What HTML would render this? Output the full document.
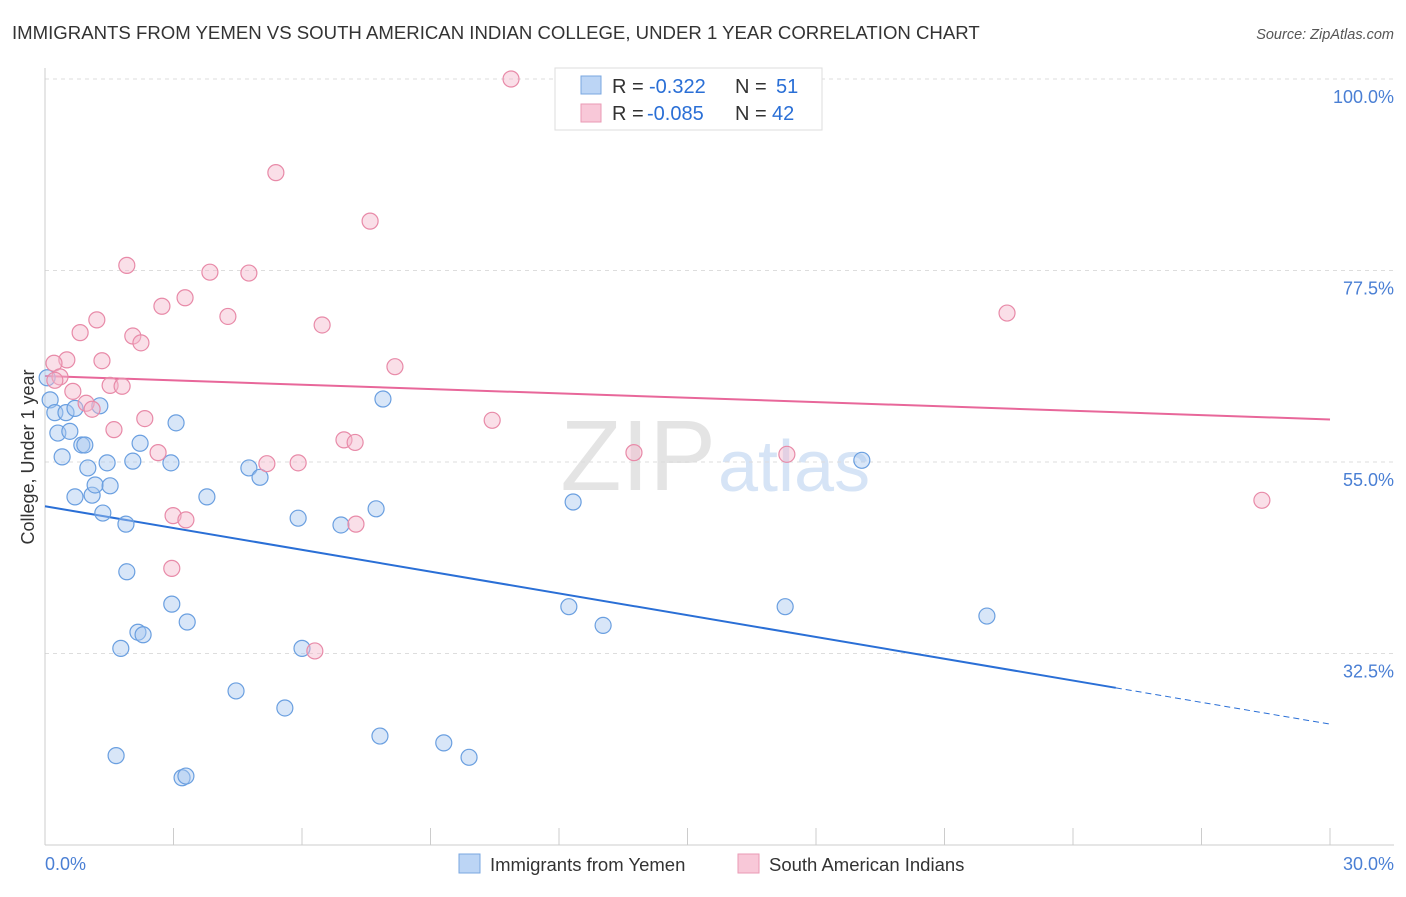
<!DOCTYPE html>
<html><head><meta charset="utf-8"><style>
body{margin:0;background:#fff;font-family:"Liberation Sans",sans-serif;}
svg text{font-family:"Liberation Sans",sans-serif;}
</style></head><body>
<svg id="chart" width="1406" height="892" xmlns="http://www.w3.org/2000/svg">
<text x="12" y="39" font-size="18.6" fill="#333">IMMIGRANTS FROM YEMEN VS SOUTH AMERICAN INDIAN COLLEGE, UNDER 1 YEAR CORRELATION CHART</text>
<text x="1394" y="39" font-size="14.5" fill="#555" text-anchor="end" font-style="italic">Source: ZipAtlas.com</text>
<text x="716" y="490" font-size="100" fill="#e4e4e4" text-anchor="end" font-family="Liberation Serif">ZIP</text>
<text x="718" y="491" font-size="72" fill="#d6e4f6">atlas</text>
<g id="grid"></g><g id="axes"></g><g id="lines"></g><g id="pts"></g>
<text transform="translate(34,457) rotate(-90)" font-size="18" fill="#333" text-anchor="middle">College, Under 1 year</text>
<g>
<rect x="555" y="68" width="267" height="62" fill="#fff" stroke="#ddd"/>
<rect x="581" y="76" width="20" height="18" fill="#bcd5f5" stroke="#7aa7e0"/>
<rect x="581" y="104" width="20" height="18" fill="#f8c8d8" stroke="#ea9ab4"/>
<text x="612" y="93" font-size="20" fill="#333">R =</text>
<text x="649" y="93" font-size="20" fill="#2a6fd6">-0.322</text>
<text x="735" y="93" font-size="20" fill="#333">N =</text>
<text x="776" y="93" font-size="20" fill="#2a6fd6">51</text>
<text x="612" y="120" font-size="20" fill="#333">R =</text>
<text x="647" y="120" font-size="20" fill="#2a6fd6">-0.085</text>
<text x="735" y="120" font-size="20" fill="#333">N =</text>
<text x="772" y="120" font-size="20" fill="#2a6fd6">42</text>
</g>
<g>
<rect x="459" y="854" width="21" height="19" fill="#bcd5f5" stroke="#7aa7e0"/>
<text x="490" y="871" font-size="18.5" fill="#333">Immigrants from Yemen</text>
<rect x="738" y="854" width="21" height="19" fill="#f8c8d8" stroke="#ea9ab4"/>
<text x="769" y="871" font-size="18.5" fill="#333">South American Indians</text>
</g>
</svg>
<script>
const yTicks=[100,77.5,55,32.5];
const xTickLabels=["0.0%","30.0%"];
const blueX=[0.05,0.12,0.23,0.49,0.70,1.28,0.30,0.58,0.40,0.86,0.93,1.00,1.45,2.05,2.22,2.94,3.06,0.70,1.10,1.17,1.52,1.35,1.89,3.78,4.76,5.02,5.91,6.91,7.73,7.89,12.33,19.07,1.91,2.96,3.32,2.17,2.29,1.77,6.00,4.46,5.60,7.82,9.31,9.90,12.23,13.03,17.28,21.99,1.66,3.20,3.29];
const blueY=[64.9,62.3,60.8,60.8,61.3,61.6,58.4,58.6,55.6,57.0,57.0,54.3,54.9,55.1,57.2,54.9,59.6,50.9,51.1,52.3,52.2,49.0,47.7,50.9,54.3,53.2,48.4,47.6,49.5,62.4,50.3,55.2,42.1,38.3,36.2,35.0,34.7,33.1,33.1,28.1,26.1,22.8,22.0,20.3,38.0,35.8,38.0,36.9,20.5,17.9,18.1];
const pinkX=[10.88,5.39,7.59,1.91,3.85,4.76,3.27,2.73,4.27,1.21,6.47,0.82,2.05,2.24,0.51,0.21,1.33,8.17,0.35,0.23,1.52,1.80,0.65,0.96,1.10,2.33,1.61,10.44,6.98,7.24,2.64,5.18,5.91,13.75,17.32,22.46,28.41,2.99,3.29,7.26,2.96,6.30];
const pinkY=[100,89.0,83.3,78.1,77.3,77.2,74.3,73.3,72.1,71.7,71.1,70.2,69.8,69.0,67.0,66.6,66.9,66.2,65.0,64.6,64.0,63.9,63.3,61.9,61.2,60.1,58.8,59.9,57.6,57.3,56.1,54.8,54.9,56.1,55.9,72.5,50.5,48.7,48.2,47.7,42.5,32.8];
const blueTrend=[49.8,24.2];
const pinkTrend=[65.1,60.0];
const NS="http://www.w3.org/2000/svg";
const X=v=>45+v/30*1285;
const Y=v=>79+(100-v)*8.511;
function mk(tag,attrs,parent){const e=document.createElementNS(NS,tag);for(const k in attrs)e.setAttribute(k,attrs[k]);document.getElementById(parent).appendChild(e);return e;}
yTicks.forEach(t=>{
 const l=mk('line',{x1:45,x2:1394,y1:Y(t),y2:Y(t),stroke:'#ddd','stroke-dasharray':'4,4'},'grid');
 
 
 const tx=mk('text',{x:1394,y:Y(t)+24,'font-size':18,fill:'#4a7fd4','text-anchor':'end'},'grid');
 tx.textContent=t.toFixed(1)+'%';
 
 
});
mk('line',{x1:45,x2:45,y1:68,y2:845,stroke:'#ccc'},'axes');
mk('line',{x1:45,x2:1394,y1:845,y2:845,stroke:'#ccc'},'axes');
for(let i=0;i<=10;i++){const t=mk('line',{x1:X(i*3),x2:X(i*3),y1:828,y2:845,stroke:'#ccc'},'axes');
 
 }
const xl0=mk('text',{x:45,y:870,'font-size':18,fill:'#4a7fd4'},'axes');xl0.textContent=xTickLabels[0];


const xl1=mk('text',{x:1394,y:870,'font-size':18,fill:'#4a7fd4','text-anchor':'end'},'axes');xl1.textContent=xTickLabels[1];


blueX.forEach((x,i)=>{const c=mk('circle',{cx:X(x),cy:Y(blueY[i]),r:8,fill:'rgba(168,200,240,0.45)',stroke:'#6a9fe0','stroke-width':1.2},'pts');
 
 });
pinkX.forEach((x,i)=>{const c=mk('circle',{cx:X(x),cy:Y(pinkY[i]),r:8,fill:'rgba(244,184,203,0.45)',stroke:'#e88aa8','stroke-width':1.2},'pts');
 
 });
const bAt=x=>blueTrend[0]+(blueTrend[1]-blueTrend[0])*x/30;
const bl=mk('line',{x1:X(0),y1:Y(bAt(0)),x2:X(25),y2:Y(bAt(25)),stroke:'#2a6fd6','stroke-width':2},'lines');


const bd=mk('line',{x1:X(25),y1:Y(bAt(25)),x2:X(30),y2:Y(bAt(30)),stroke:'#2a6fd6','stroke-width':1,'stroke-dasharray':'6,4'},'lines');


const pl=mk('line',{x1:X(0),y1:Y(pinkTrend[0]),x2:X(30),y2:Y(pinkTrend[1]),stroke:'#e8679a','stroke-width':2},'lines');


</script>
</body></html>
